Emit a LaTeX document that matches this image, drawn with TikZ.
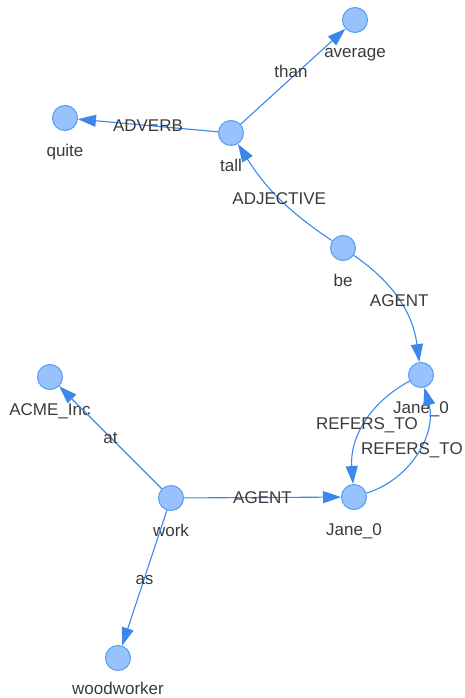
\documentclass[tikz,border=0pt]{standalone}
\usepackage{fontspec}
\setmainfont{Liberation Sans}
\usetikzlibrary{arrows.meta}
\definecolor{dotfill}{HTML}{97C2FC}
\definecolor{dotline}{HTML}{5A9BF2}
\definecolor{linkblue}{HTML}{3C87EC}
\definecolor{txtgray}{HTML}{3A3A3A}

\begin{document}
\begin{tikzpicture}[x=1pt, y=-1pt,
	tok/.style={circle, draw=dotline, fill=dotfill, line width=1pt, minimum size=25pt, inner sep=0pt},
	word/.style={anchor=base, text=txtgray, inner sep=0pt, font=\fontsize{17}{20}\selectfont},
	rel/.style={text=txtgray, inner sep=0pt, text height=12pt, text depth=0pt, font=\fontsize{17}{20}\selectfont},
	link/.style={-{Triangle[length=18pt, width=12pt]}, draw=linkblue, line width=1.1pt}]

	\useasboundingbox (0,0) rectangle (464,698);

	\node[tok] (average) at (355,20) {};
	\node[tok] (quite) at (65,118) {};
	\node[tok] (tall) at (231,133) {};
	\node[tok] (be) at (343,248) {};
	\node[tok] (janeA) at (421,375) {};
	\node[tok] (acme) at (50,377) {};
	\node[tok] (work) at (171,498) {};
	\node[tok] (janeB) at (354,497) {};
	\node[tok] (woodworker) at (118,658) {};

	\node[word] (averageT) at (355,58) {average};
	\node[word] (quiteT) at (65,156) {quite};
	\node[word] (tallT) at (231,171) {tall};
	\node[word] (beT) at (343,286) {be};
	\node[word] (janeAT) at (421,413) {Jane\_0};
	\node[word] (acmeT) at (50,415) {ACME\_Inc};
	\node[word] (workT) at (171,536) {work};
	\node[word] (janeBT) at (354,535) {Jane\_0};
	\node[word] (woodworkerT) at (118,694.5) {woodworker};

\draw[link] (tall) -- node[rel, xshift=-2pt, yshift=5pt] {than} (average);
\draw[link] (tall) -- node[rel] {ADVERB} (quite);
\draw[link] (be) to[bend left=12] node[rel] {ADJECTIVE} (tall);
\draw[link] (be) to[bend left=24] node[rel] {AGENT} (janeA);
\draw[link] (janeA) to[bend right=33] node[rel, xshift=2pt] {REFERS\_TO} (janeB);
\draw[link] (janeB) to[bend right=44] node[rel, xshift=-5pt, yshift=4pt] {REFERS\_TO} (janeA);
\draw[link] (work) -- node[rel] {at} (acme);
\draw[link] (work) -- node[rel] {AGENT} (janeB);
\draw[link] (work) -- node[rel] {as} (woodworker);
\end{tikzpicture}
\end{document}
